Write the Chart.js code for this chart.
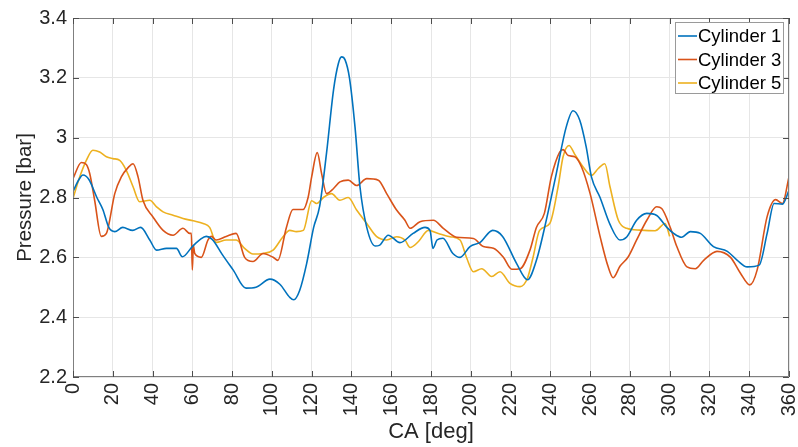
<!DOCTYPE html>
<html>
<head>
<meta charset="utf-8">
<script src="https://cdn.jsdelivr.net/npm/chart.js@4/dist/chart.umd.min.js"></script>
<style>
html,body{margin:0;padding:0;background:#fff;}
#wrap{width:798px;height:447px;position:relative;}
</style>
</head>
<body>
<div id="wrap"><canvas id="c" width="798" height="447"></canvas></div>
<script>
// ---- data ----
const seriesNames = ["Cylinder 1", "Cylinder 3", "Cylinder 5"];
const xTicks = [0,20,40,60,80,100,120,140,160,180,200,220,240,260,280,300,320,340,360];
const yTicks = [2.2,2.4,2.6,2.8,3.0,3.2,3.4];

const caCyl1 = [0,3,5,8,12,15,18,21,25,30,34,38.6,42,47,52,55,60,64,67,70,75,80.5,87,92,99,104,109,111,114,117.5,121,124,127.5,131,133.4,135,136.8,139,141.8,144.3,147.7,151.9,154,158.5,164.4,171,177,179.5,181,183,186,191,194.6,199.6,204.7,211,216,223,228.5,233,238,243,248,251.4,254.8,258,260.7,265,270,275,278.4,283.4,288.5,293.5,298.6,302,306,310.4,315.4,322,329,334,339,345,349,352.5,356.7,360];
const pCyl1 = [2.82,2.86,2.875,2.86,2.80,2.76,2.70,2.686,2.70,2.69,2.70,2.658,2.624,2.63,2.63,2.602,2.636,2.66,2.67,2.66,2.61,2.558,2.497,2.50,2.527,2.51,2.466,2.458,2.49,2.58,2.70,2.77,2.95,3.16,3.247,3.27,3.26,3.20,3.035,2.835,2.70,2.638,2.64,2.674,2.649,2.68,2.70,2.69,2.63,2.658,2.664,2.613,2.60,2.636,2.65,2.69,2.67,2.58,2.525,2.59,2.725,2.88,3.036,3.09,3.058,2.97,2.868,2.80,2.71,2.658,2.668,2.724,2.747,2.74,2.70,2.68,2.667,2.686,2.68,2.636,2.62,2.59,2.568,2.574,2.68,2.78,2.778,2.824];

const caCyl3 = [0,4.2,6.7,8.4,10.9,14.2,16.8,21,24.3,27.7,30.2,32.7,35.2,40.2,45.3,50.3,55.3,58.7,59.5,60,60.5,61.2,64.5,67.9,69.6,72,77,82,86.3,90.5,95.6,100.6,103,107.3,110.6,115.7,118.2,120,122.8,125,127.5,131,134.2,138.4,142.6,147.7,153.5,157.7,162.7,166.9,169.5,174.5,181.2,186.2,192.9,201.3,206.3,211.4,216.4,220.6,224.8,229.8,233,237,240.5,244.7,246.4,249,252.3,255.7,260,265,269,271.6,275,279.2,283.4,288.5,293.5,296,300.3,303.6,308.7,312.9,317.1,323.8,330.6,335.6,340.3,344,349,353.3,356.7,360];
const pCyl3 = [2.863,2.917,2.91,2.88,2.79,2.67,2.68,2.813,2.869,2.90,2.913,2.869,2.79,2.735,2.69,2.674,2.697,2.68,2.68,2.558,2.64,2.613,2.60,2.658,2.67,2.658,2.67,2.68,2.60,2.586,2.613,2.60,2.59,2.70,2.76,2.76,2.80,2.869,2.95,2.88,2.813,2.83,2.852,2.858,2.84,2.863,2.858,2.813,2.758,2.724,2.697,2.719,2.724,2.697,2.667,2.663,2.636,2.63,2.60,2.56,2.562,2.625,2.70,2.747,2.869,2.952,2.96,2.94,2.936,2.902,2.813,2.67,2.57,2.532,2.57,2.602,2.658,2.724,2.769,2.763,2.70,2.636,2.568,2.562,2.59,2.62,2.60,2.547,2.508,2.558,2.736,2.793,2.78,2.869];

const caCyl5 = [0,3.4,6.7,10,13.4,16.8,20.1,23.5,26.8,30.2,33.5,38.6,42,45.3,50.3,55.3,60.4,65.4,68.7,72,77,82,86.3,90.5,95.6,100.6,105.6,109,112.3,115.8,120,122.5,125.9,130,134.2,138.4,142.6,147.7,152.7,157.7,162.7,166.9,169.5,173.6,178.7,183.7,189.6,194.6,198,201.3,205.5,210.5,214.7,219.7,224.8,228.5,231.2,234.6,239.7,243.9,246.4,249.4,252.3,256.5,260.7,264.1,267.4,270,274.2,278.4,285.1,292.7,297.7,300];
const pCyl5 = [2.797,2.869,2.924,2.958,2.952,2.936,2.93,2.924,2.891,2.836,2.786,2.791,2.769,2.752,2.741,2.73,2.722,2.713,2.70,2.65,2.658,2.658,2.63,2.611,2.613,2.624,2.669,2.69,2.686,2.69,2.789,2.78,2.80,2.813,2.791,2.80,2.758,2.713,2.669,2.658,2.669,2.658,2.633,2.652,2.69,2.68,2.669,2.658,2.597,2.552,2.562,2.536,2.552,2.513,2.502,2.53,2.597,2.69,2.713,2.836,2.936,2.974,2.944,2.902,2.874,2.897,2.913,2.836,2.724,2.697,2.691,2.689,2.713,2.67];

// ---- styling ----
const colors = ["#0072BD", "#D95319", "#EDB120"];
const FONT = "'Liberation Sans', Arial, Helvetica, sans-serif";
const TXT = "#262626";

function pts(xs, ys){ return xs.map((x,i)=>({x:x, y:ys[i]})); }

const frame = {
  id: 'frame',
  afterDatasetsDraw(chart){
    const {ctx, chartArea:a, scales:{x, y}} = chart;
    ctx.save();
    ctx.strokeStyle = '#7f7f7f';
    ctx.lineWidth = 1;
    ctx.beginPath();
    ctx.rect(a.left+0.5, a.top+0.5, a.right-a.left-1, a.bottom-a.top-1);
    ctx.stroke();
    ctx.strokeStyle = '#4d4d4d';
    ctx.beginPath();
    const tl = 6;
    xTicks.forEach(v=>{
      const px = Math.round(x.getPixelForValue(v))+0.5;
      ctx.moveTo(px, a.bottom); ctx.lineTo(px, a.bottom-tl);
      ctx.moveTo(px, a.top); ctx.lineTo(px, a.top+tl);
    });
    yTicks.forEach(v=>{
      const py = Math.round(y.getPixelForValue(v))+0.5;
      ctx.moveTo(a.left, py); ctx.lineTo(a.left+tl, py);
      ctx.moveTo(a.right, py); ctx.lineTo(a.right-tl, py);
    });
    ctx.stroke();

    // legend box
    const bx = 675.5, by = 22.5, bw = 108, bh = 71;
    ctx.fillStyle = '#fff';
    ctx.fillRect(bx, by, bw, bh);
    ctx.strokeStyle = '#9a9a9a';
    ctx.strokeRect(bx, by, bw, bh);
    ctx.font = "18.5px " + FONT;
    ctx.textBaseline = 'middle';
    ctx.textAlign = 'left';
    chart.data.datasets.forEach((ds, i)=>{
      const cy = 36 + i*23.5;
      ctx.strokeStyle = ds.borderColor;
      ctx.lineWidth = 1.6;
      ctx.beginPath();
      ctx.moveTo(678, cy); ctx.lineTo(697, cy);
      ctx.stroke();
      ctx.fillStyle = '#000';
      ctx.fillText(ds.label, 698, cy+1);
    });
    ctx.restore();
  }
};

new Chart(document.getElementById('c'), {
  type: 'line',
  data: {
    datasets: [
      {label: seriesNames[0], data: pts(caCyl1, pCyl1), borderColor: colors[0]},
      {label: seriesNames[1], data: pts(caCyl3, pCyl3), borderColor: colors[1]},
      {label: seriesNames[2], data: pts(caCyl5, pCyl5), borderColor: colors[2]}
    ]
  },
  options: {
    responsive: false,
    animation: false,
    devicePixelRatio: 1,
    layout: {padding: {top: 17, right: 9, left: 0, bottom: 0}},
    elements: {
      point: {radius: 0},
      line: {borderWidth: 1.6, tension: 0.4, cubicInterpolationMode: 'monotone', fill: false}
    },
    plugins: {legend: {display: false}, tooltip: {enabled: false}},
    scales: {
      x: {
        type: 'linear', min: 0, max: 360,
        afterBuildTicks(s){ s.ticks = xTicks.map(v=>({value:v})); },
        afterFit(s){ s.height = 70; s.paddingLeft = 0; s.paddingRight = 0; },
        ticks: {
          color: TXT, font: {family: FONT, size: 20}, padding: 6,
          maxRotation: 90, minRotation: 90, autoSkip: false,
          callback: v => String(v)
        },
        grid: {color: '#e6e6e6', drawTicks: false},
        border: {display: false},
        title: {display: true, text: 'CA [deg]', color: TXT,
                font: {family: FONT, size: 22}, padding: {top: 0, bottom: 2}}
      },
      y: {
        min: 2.2, max: 3.4,
        afterBuildTicks(s){ s.ticks = yTicks.map(v=>({value:v})); },
        afterFit(s){ s.width = 73; },
        ticks: {
          color: TXT, font: {family: FONT, size: 20}, padding: 6,
          callback: v => String(+(+v).toFixed(1))
        },
        grid: {color: '#e6e6e6', drawTicks: false},
        border: {display: false},
        title: {display: true, text: 'Pressure [bar]', color: TXT,
                font: {family: FONT, size: 20.5}, padding: {top: 13, bottom: 0}}
      }
    }
  },
  plugins: [frame]
});
</script>
</body>
</html>
